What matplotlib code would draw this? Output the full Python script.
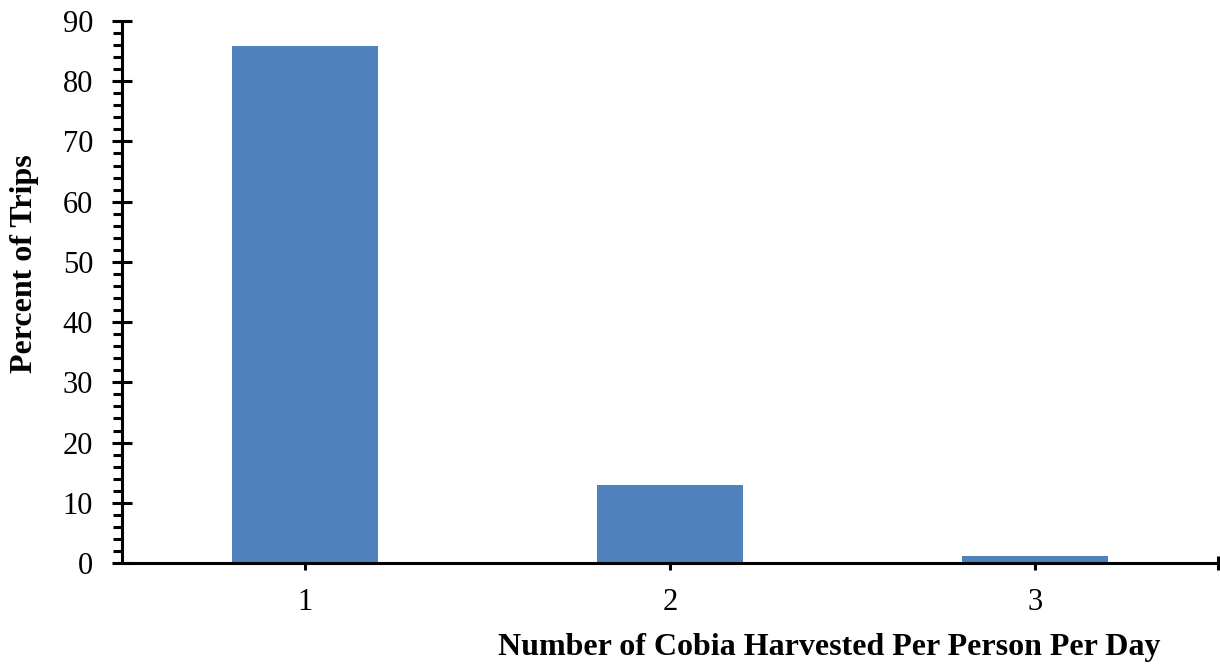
import matplotlib.pyplot as plt
from matplotlib.ticker import MultipleLocator

# data
cobia_per_day = [1, 2, 3]
tick_labels = ["1", "2", "3"]
percent_trips = [85.8, 13.0, 1.2]

bar_color = "#4F81BD"

plt.rcParams["font.family"] = ["Liberation Serif", "DejaVu Serif"]

fig = plt.figure(figsize=(12.2, 6.66), dpi=100)
ax = fig.add_axes([122 / 1220, 1 - 563 / 666, 1096 / 1220, (563 - 21) / 666])

ax.bar(cobia_per_day, percent_trips, width=0.4, color=bar_color, zorder=2)

ax.set_xlim(0.5, 3.5)
ax.set_ylim(0, 90)

ax.set_xticks(cobia_per_day + [3.5])
ax.set_xticklabels(tick_labels + [""])
ax.yaxis.set_major_locator(MultipleLocator(10))
ax.yaxis.set_minor_locator(MultipleLocator(2))

for s in ["top", "right"]:
    ax.spines[s].set_visible(False)
for s in ["left", "bottom"]:
    ax.spines[s].set_linewidth(2.2)
    ax.spines[s].set_color("black")
    ax.spines[s].set_capstyle("butt")

ax.tick_params(axis="y", which="major", direction="inout", length=13.7, width=2.2,
               labelsize=22, pad=14)
ax.tick_params(axis="y", which="minor", direction="out", length=6.5, width=2.2)
ax.tick_params(axis="x", which="major", direction="inout", length=9.4, width=2.2,
               labelsize=22, pad=13)

fig.text(25 / 1220, 1 - 264 / 666, "Percent of Trips", rotation=90,
         ha="center", va="center", fontsize=23, fontweight="bold")
fig.text(829 / 1220, 1 - 647 / 666, "Number of Cobia Harvested Per Person Per Day",
         ha="center", va="center", fontsize=23, fontweight="bold")

fig.savefig("out.png", dpi=100)
